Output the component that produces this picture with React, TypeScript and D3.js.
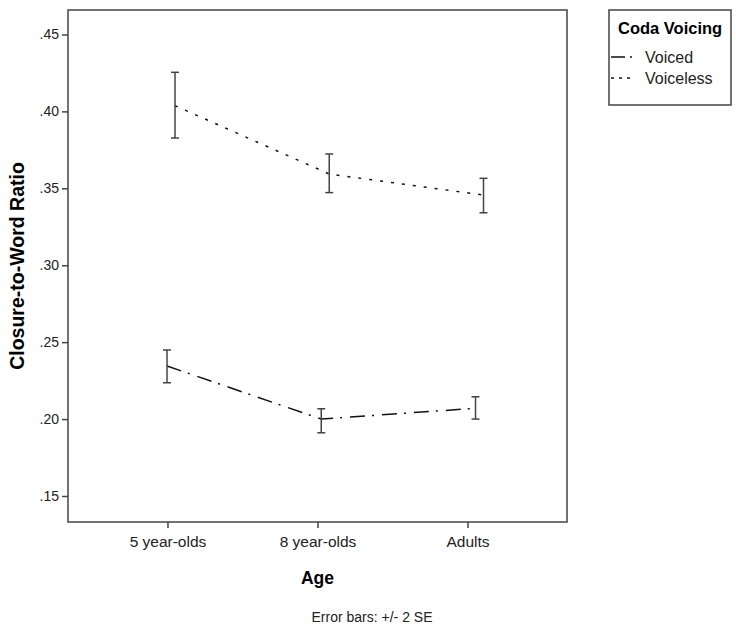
import React, { useEffect, useRef } from 'react';
import * as d3 from 'd3';

// values
const ages = ['5 year-olds', '8 year-olds', 'Adults'];
const yTicks = [0.15, 0.2, 0.25, 0.3, 0.35, 0.4, 0.45];

const voicedMean = [0.2345, 0.2, 0.207];
const voicedLow = [0.2236, 0.1911, 0.2];
const voicedHigh = [0.2449, 0.2067, 0.2145];

const voicelessMean = [0.4037, 0.3593, 0.3456];
const voicelessLow = [0.3827, 0.3472, 0.3341];
const voicelessHigh = [0.4254, 0.3723, 0.3565];

const seriesNames = ['Voiced', 'Voiceless'];

const W = 736;
const H = 628;

export default function App() {
    const svgRef = useRef<SVGSVGElement>(null);

    useEffect(() => {
        const svg = d3.select(svgRef.current);
        svg.selectAll('*').remove();

        const left = 68, right = 567, top = 10, bottom = 522;
        const font = '"Liberation Sans", Arial, sans-serif';

        const y = d3.scaleLinear().domain([0.1331, 0.4659]).range([bottom, top]);
        const xAxis = d3.scalePoint().domain(ages).range([left, right]).padding(0.663);
        // SPSS places the clustered marks on a slightly wider grid than the tick labels
        const xMarks = d3.scalePoint().domain(ages).range([left + 103, right - 87.5]);
        const dodge = [-4, 4];

        const styles = [
            { dash: '15,7,2,8', legendDash: '14,5,2,10', data: [voicedMean, voicedLow, voicedHigh] },
            { dash: '3,8', legendDash: '3,5', data: [voicelessMean, voicelessLow, voicelessHigh] },
        ];

        // frame
        svg.append('rect')
            .attr('x', left).attr('y', top)
            .attr('width', right - left).attr('height', bottom - top)
            .attr('fill', 'none').attr('stroke', '#444').attr('stroke-width', 1.5);

        // y axis
        const yG = svg.append('g').attr('transform', `translate(${left},0)`)
            .call(d3.axisLeft(y).tickValues(yTicks).tickSize(6).tickPadding(3)
                .tickFormat(d => d3.format('.2f')(+d).replace(/^0/, '')));
        yG.select('.domain').remove();
        yG.selectAll('line').attr('stroke', '#444').attr('stroke-width', 1.5);
        yG.selectAll('text').attr('font-family', font).attr('font-size', 14).attr('fill', '#222');

        // x axis
        const xG = svg.append('g').attr('transform', `translate(0,${bottom})`)
            .call(d3.axisBottom(xAxis).tickSize(6).tickPadding(8));
        xG.select('.domain').remove();
        xG.selectAll('line').attr('stroke', '#444').attr('stroke-width', 1.5);
        xG.selectAll('text').attr('font-family', font).attr('font-size', 15.5).attr('fill', '#222');

        // axis titles
        svg.append('text')
            .attr('transform', `translate(19,${(top + bottom) / 2}) rotate(-90)`)
            .attr('text-anchor', 'middle').attr('dominant-baseline', 'middle')
            .attr('font-family', font).attr('font-size', 19.5).attr('font-weight', 'bold')
            .text('Closure-to-Word Ratio');
        svg.append('text')
            .attr('x', (left + right) / 2).attr('y', 584)
            .attr('text-anchor', 'middle')
            .attr('font-family', font).attr('font-size', 17.5).attr('font-weight', 'bold')
            .text('Age');
        svg.append('text')
            .attr('x', 372).attr('y', 622)
            .attr('text-anchor', 'middle')
            .attr('font-family', font).attr('font-size', 14).attr('fill', '#222')
            .text('Error bars: +/- 2 SE');

        // lines + error bars
        styles.forEach((s, k) => {
            const [mean, low, high] = s.data;
            const px = (i: number) => (xMarks(ages[i]) as number) + dodge[k];

            const line = d3.line<number>()
                .x((d, i) => px(i))
                .y(d => y(d));
            svg.append('path')
                .datum(mean)
                .attr('d', line)
                .attr('fill', 'none').attr('stroke', '#111')
                .attr('stroke-width', 1.5).attr('stroke-dasharray', s.dash);

            const bars = svg.append('g').attr('stroke', '#444').attr('stroke-width', 1.5);
            ages.forEach((a, i) => {
                const cx = px(i);
                bars.append('line').attr('x1', cx).attr('x2', cx).attr('y1', y(low[i])).attr('y2', y(high[i]));
                bars.append('line').attr('x1', cx - 4).attr('x2', cx + 4).attr('y1', y(low[i])).attr('y2', y(low[i]));
                bars.append('line').attr('x1', cx - 4).attr('x2', cx + 4).attr('y1', y(high[i])).attr('y2', y(high[i]));
            });
        });

        // legend
        const lg = svg.append('g');
        lg.append('rect')
            .attr('x', 609).attr('y', 10).attr('width', 122).attr('height', 95)
            .attr('fill', 'none').attr('stroke', '#444').attr('stroke-width', 1.5);
        lg.append('text')
            .attr('x', 618).attr('y', 34)
            .attr('font-family', font).attr('font-size', 16.5).attr('font-weight', 'bold')
            .text('Coda Voicing');
        seriesNames.forEach((name, k) => {
            const ly = 57 + k * 21;
            lg.append('line')
                .attr('x1', 611).attr('x2', 634).attr('y1', ly).attr('y2', ly)
                .attr('stroke', '#111').attr('stroke-width', 1.5)
                .attr('stroke-dasharray', styles[k].legendDash);
            lg.append('text')
                .attr('x', 645).attr('y', ly + 5.5)
                .attr('font-family', font).attr('font-size', 16).attr('fill', '#222')
                .text(name);
        });
    }, []);

    return (
        <svg ref={svgRef} width={W} height={H}
            style={{ position: 'absolute', left: 0, top: 0, background: '#fff' }} />
    );
}
